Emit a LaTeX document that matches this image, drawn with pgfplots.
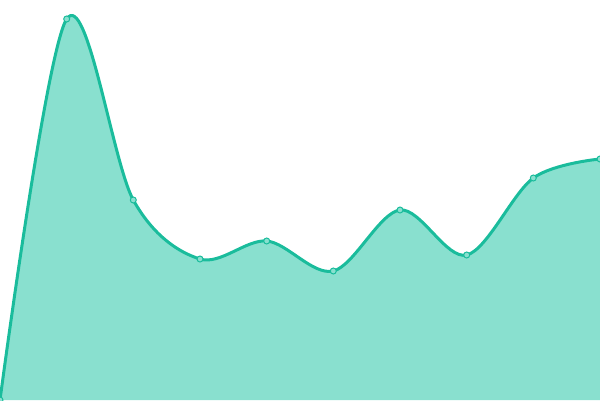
\documentclass[border=0pt]{standalone}
\usepackage{pgfplots}
\pgfplotsset{compat=1.18}
\definecolor{teal1}{HTML}{1ABC9C}
\definecolor{tealfill}{HTML}{89E0CF}
\begin{document}
\begin{tikzpicture}
\begin{axis}[
  scale only axis, width=600bp, height=400bp,
  xmin=0, xmax=600, ymin=0, ymax=400,
  hide axis, clip marker paths=true,
]
\addplot[draw=none, fill=tealfill, smooth, tension=0.55] coordinates {
 (0,0) (66.7,381) (133.3,200) (200,141) (266.7,159) (333.3,129)
 (400,190) (466.7,145) (533.3,222) (600,241)} \closedcycle;
\addplot[teal1, line width=3bp, smooth, tension=0.55,
  mark=*, mark size=3bp, mark options={fill=tealfill, draw=teal1, line width=1bp}] coordinates {
 (0,0) (66.7,381) (133.3,200) (200,141) (266.7,159) (333.3,129)
 (400,190) (466.7,145) (533.3,222) (600,241)};
\end{axis}
\pgfresetboundingbox
\path (current axis.south west) rectangle (current axis.north east);
\end{tikzpicture}
\end{document}
